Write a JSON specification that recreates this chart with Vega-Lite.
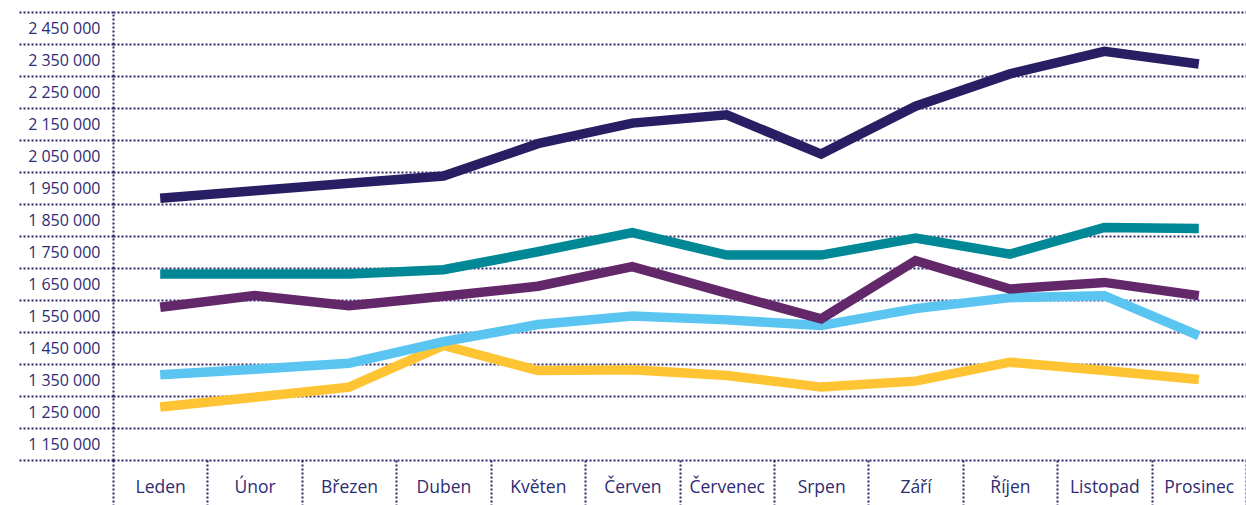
{
  "$schema": "https://vega.github.io/schema/vega-lite/v6.json",
  "autosize": {"type": "none"},
  "padding": {"left": 113, "top": 12, "right": 0, "bottom": 45},
  "width": 1133,
  "height": 448,
  "background": "white",
  "data": {
    "values": [
      {"m": "Leden", "s": "Řada 5", "v": 1265500},
      {"m": "Únor", "s": "Řada 5", "v": 1296000},
      {"m": "Březen", "s": "Řada 5", "v": 1327800},
      {"m": "Duben", "s": "Řada 5", "v": 1457800},
      {"m": "Květen", "s": "Řada 5", "v": 1379900},
      {"m": "Červen", "s": "Řada 5", "v": 1382000},
      {"m": "Červenec", "s": "Řada 5", "v": 1364300},
      {"m": "Srpen", "s": "Řada 5", "v": 1327800},
      {"m": "Září", "s": "Řada 5", "v": 1346500},
      {"m": "Říjen", "s": "Řada 5", "v": 1405700},
      {"m": "Listopad", "s": "Řada 5", "v": 1379900},
      {"m": "Prosinec", "s": "Řada 5", "v": 1351800},
      {"m": "Leden", "s": "Řada 4", "v": 1366500},
      {"m": "Únor", "s": "Řada 4", "v": 1383600},
      {"m": "Březen", "s": "Řada 4", "v": 1402600},
      {"m": "Duben", "s": "Řada 4", "v": 1469900},
      {"m": "Květen", "s": "Řada 4", "v": 1523200},
      {"m": "Červen", "s": "Řada 4", "v": 1549700},
      {"m": "Červenec", "s": "Řada 4", "v": 1537900},
      {"m": "Srpen", "s": "Řada 4", "v": 1520100},
      {"m": "Září", "s": "Řada 4", "v": 1573100},
      {"m": "Říjen", "s": "Řada 4", "v": 1607400},
      {"m": "Listopad", "s": "Řada 4", "v": 1613600},
      {"m": "Prosinec", "s": "Řada 4", "v": 1488900},
      {"m": "Leden", "s": "Řada 3", "v": 1577100},
      {"m": "Únor", "s": "Řada 3", "v": 1613600},
      {"m": "Březen", "s": "Řada 3", "v": 1582400},
      {"m": "Duben", "s": "Řada 3", "v": 1611700},
      {"m": "Květen", "s": "Řada 3", "v": 1642900},
      {"m": "Červen", "s": "Řada 3", "v": 1704000},
      {"m": "Červenec", "s": "Řada 3", "v": 1621400},
      {"m": "Srpen", "s": "Řada 3", "v": 1541000},
      {"m": "Září", "s": "Řada 3", "v": 1722700},
      {"m": "Říjen", "s": "Řada 3", "v": 1634500},
      {"m": "Listopad", "s": "Řada 3", "v": 1655000},
      {"m": "Prosinec", "s": "Řada 3", "v": 1613600},
      {"m": "Leden", "s": "Řada 2", "v": 1681200},
      {"m": "Únor", "s": "Řada 2", "v": 1681200},
      {"m": "Březen", "s": "Řada 2", "v": 1681200},
      {"m": "Duben", "s": "Řada 2", "v": 1694600},
      {"m": "Květen", "s": "Řada 2", "v": 1750700},
      {"m": "Červen", "s": "Řada 2", "v": 1810800},
      {"m": "Červenec", "s": "Řada 2", "v": 1740400},
      {"m": "Srpen", "s": "Řada 2", "v": 1740400},
      {"m": "Září", "s": "Řada 2", "v": 1793400},
      {"m": "Říjen", "s": "Řada 2", "v": 1743500},
      {"m": "Listopad", "s": "Řada 2", "v": 1826400},
      {"m": "Prosinec", "s": "Řada 2", "v": 1823300},
      {"m": "Leden", "s": "Řada 1", "v": 1918000},
      {"m": "Únor", "s": "Řada 1", "v": 1941400},
      {"m": "Březen", "s": "Řada 1", "v": 1964800},
      {"m": "Duben", "s": "Řada 1", "v": 1987500},
      {"m": "Květen", "s": "Řada 1", "v": 2088500},
      {"m": "Červen", "s": "Řada 1", "v": 2152700},
      {"m": "Červenec", "s": "Řada 1", "v": 2178600},
      {"m": "Srpen", "s": "Řada 1", "v": 2056100},
      {"m": "Září", "s": "Řada 1", "v": 2205700},
      {"m": "Říjen", "s": "Řada 1", "v": 2306600},
      {"m": "Listopad", "s": "Řada 1", "v": 2377100},
      {"m": "Prosinec", "s": "Řada 1", "v": 2337500}
    ]
  },
  "mark": {"type": "line", "strokeWidth": 9.5, "strokeCap": "butt", "strokeJoin": "miter"},
  "encoding": {
    "x": {
      "field": "m",
      "type": "ordinal",
      "sort": ["Leden", "Únor", "Březen", "Duben", "Květen", "Červen", "Červenec", "Srpen", "Září", "Říjen", "Listopad", "Prosinec"],
      "scale": {"type": "band", "paddingInner": 0, "paddingOuter": 0},
      "axis": {
        "title": null,
        "domain": false,
        "grid": false,
        "ticks": true,
        "tickBand": "extent",
        "tickSize": 45,
        "tickWidth": 2,
        "tickDash": [2, 2],
        "tickColor": "#2a2466",
        "labelPadding": -27,
        "labelAngle": 0,
        "labelFont": "Open Sans",
        "labelFontSize": 17.5,
        "labelColor": "#2e2c72",
        "labelBaseline": "top"
      }
    },
    "y": {
      "field": "v",
      "type": "quantitative",
      "scale": {"domain": [1100000, 2500000], "nice": false, "zero": false},
      "axis": {
        "title": null,
        "values": [1100000, 1200000, 1300000, 1400000, 1500000, 1600000, 1700000, 1800000, 1900000, 2000000, 2100000, 2200000, 2300000, 2400000, 2500000],
        "labelExpr": "datum.value <= 1100000 ? '' : replace(replace(format(datum.value - 50000, ','), ',', ' '), ',', ' ')",
        "labelOffset": 16,
        "labelPadding": -82,
        "labelFont": "Open Sans",
        "labelFontSize": 16,
        "labelColor": "#2e2c72",
        "labelAlign": "right",
        "labelBaseline": "middle",
        "labelBound": false,
        "labelOverlap": false,
        "ticks": true,
        "tickSize": 95,
        "tickWidth": 2,
        "tickDash": [2, 2],
        "tickColor": "#2a2466",
        "grid": true,
        "gridWidth": 2,
        "gridDash": [2, 2],
        "gridColor": "#2a2466",
        "gridOpacity": 1,
        "domain": true,
        "domainWidth": 2,
        "domainDash": [2, 2],
        "domainColor": "#2a2466"
      }
    },
    "color": {
      "field": "s",
      "type": "nominal",
      "scale": {
        "domain": ["Řada 5", "Řada 4", "Řada 3", "Řada 2", "Řada 1"],
        "range": ["#fec433", "#5bc5f2", "#63286a", "#008896", "#281e64"]
      },
      "legend": null
    }
  },
  "config": {"view": {"stroke": null}}
}
